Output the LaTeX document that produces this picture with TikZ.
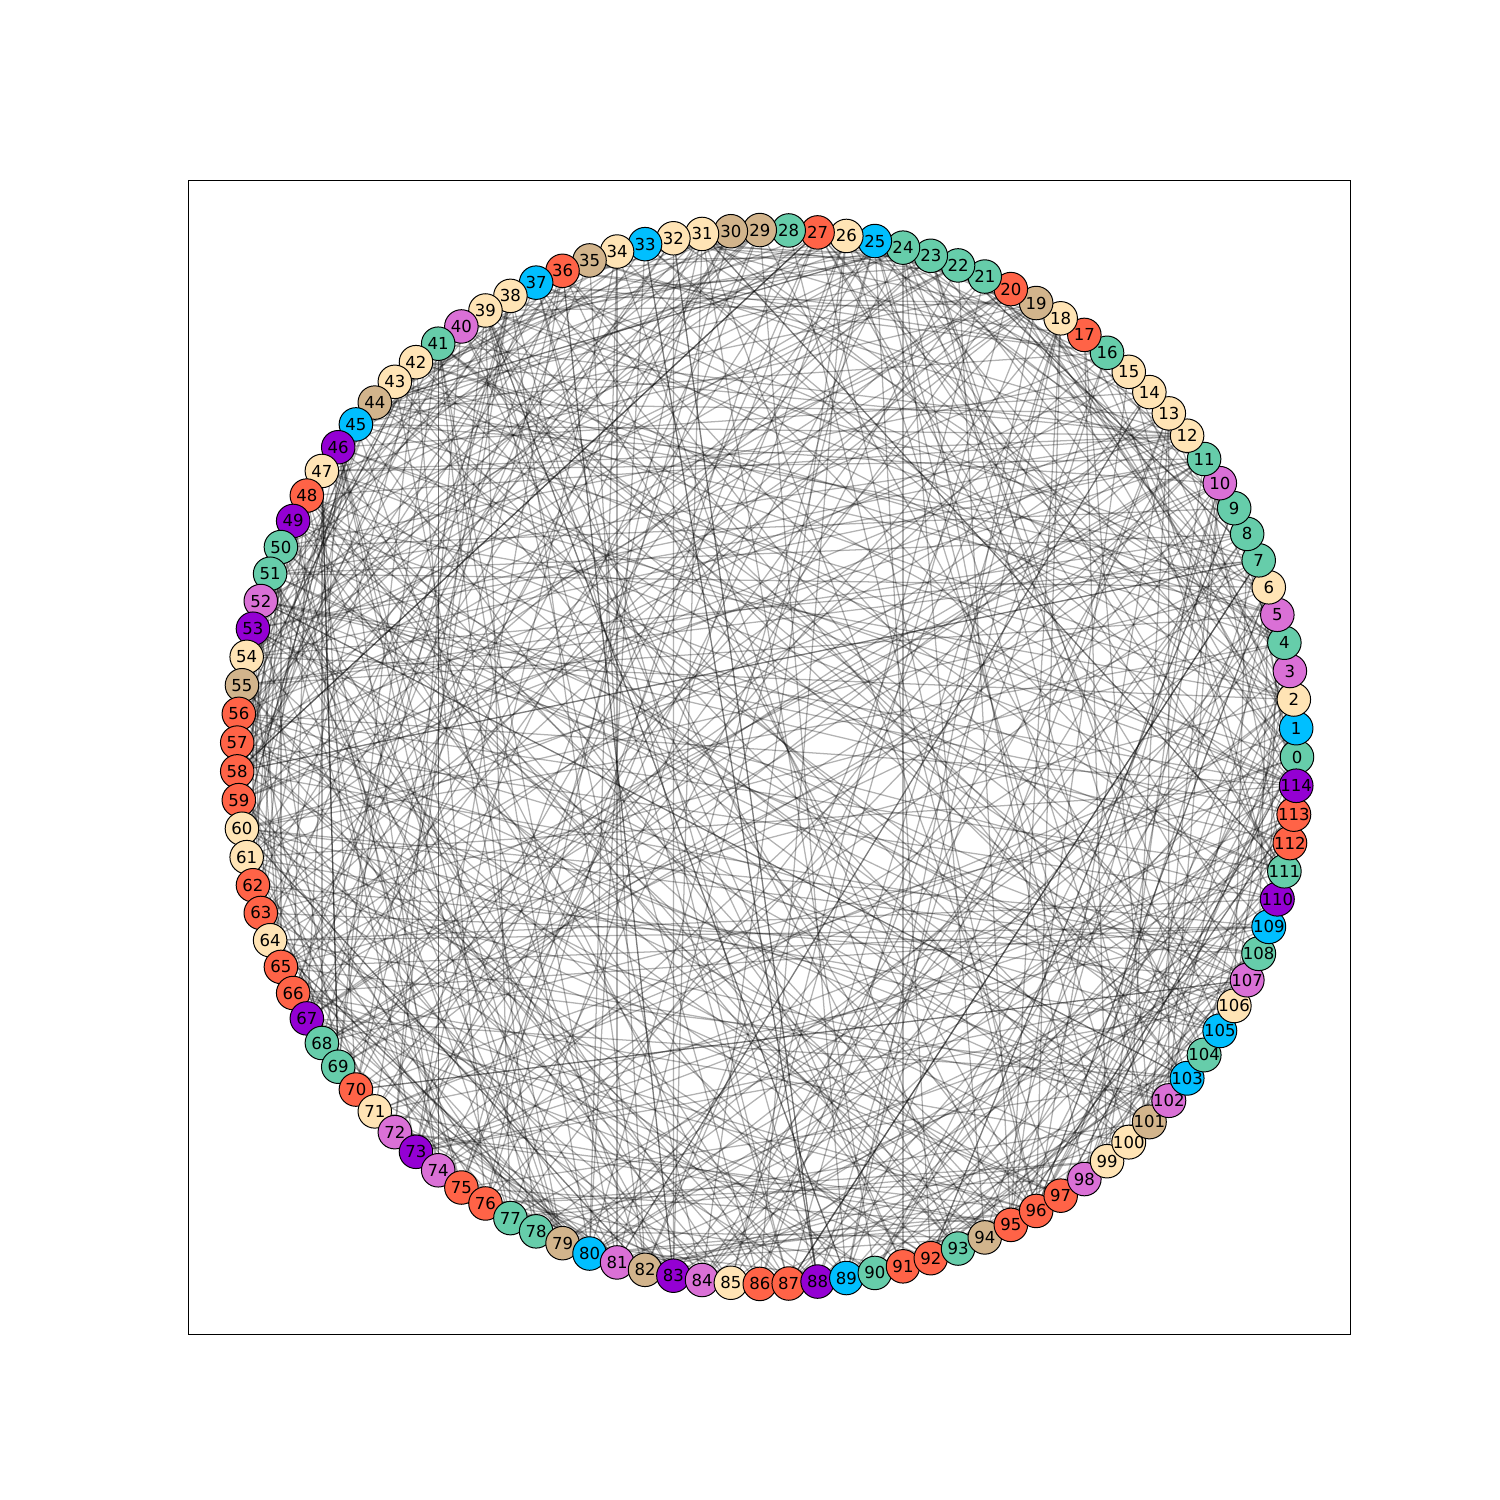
\documentclass[tikz,border=0pt]{standalone}
\usepackage{fontspec}
\setmainfont{DejaVu Sans}
\usetikzlibrary{backgrounds}
\definecolor{cgreen}{HTML}{66CDAA}
\definecolor{cblue}{HTML}{00BFFF}
\definecolor{cwheat}{HTML}{FFE4B5}
\definecolor{corchid}{HTML}{DA70D6}
\definecolor{ctomato}{HTML}{FF6347}
\definecolor{ctan}{HTML}{D2B48C}
\definecolor{cviolet}{HTML}{9400D3}
\tikzset{
  gnode/.style={circle,draw=black,line width=0.28pt,minimum size=0.335cm,inner sep=0pt,font=\fontsize{4.7}{5}\selectfont},
  ngreen/.style={gnode,fill=cgreen},
  nblue/.style={gnode,fill=cblue},
  nwheat/.style={gnode,fill=cwheat},
  norchid/.style={gnode,fill=corchid},
  ntomato/.style={gnode,fill=ctomato},
  ntan/.style={gnode,fill=ctan},
  nviolet/.style={gnode,fill=cviolet},
  gedge/.style={draw=black,opacity=0.3,line width=0.36pt}
}
\begin{document}
\begin{tikzpicture}[x=0.01cm,y=0.01cm]
\useasboundingbox (0,0) rectangle (1500,1500);
\draw[line width=0.28pt] (188,166) rectangle (1350,1319);
\begin{scope}[shift={(767,743)}]
\node[ngreen] (n0) at (0*3.130435:530 and 527) {0};
\node[nblue] (n1) at (1*3.130435:530 and 527) {1};
\node[nwheat] (n2) at (2*3.130435:530 and 527) {2};
\node[norchid] (n3) at (3*3.130435:530 and 527) {3};
\node[ngreen] (n4) at (4*3.130435:530 and 527) {4};
\node[norchid] (n5) at (5*3.130435:530 and 527) {5};
\node[nwheat] (n6) at (6*3.130435:530 and 527) {6};
\node[ngreen] (n7) at (7*3.130435:530 and 527) {7};
\node[ngreen] (n8) at (8*3.130435:530 and 527) {8};
\node[ngreen] (n9) at (9*3.130435:530 and 527) {9};
\node[norchid] (n10) at (10*3.130435:530 and 527) {10};
\node[ngreen] (n11) at (11*3.130435:530 and 527) {11};
\node[nwheat] (n12) at (12*3.130435:530 and 527) {12};
\node[nwheat] (n13) at (13*3.130435:530 and 527) {13};
\node[nwheat] (n14) at (14*3.130435:530 and 527) {14};
\node[nwheat] (n15) at (15*3.130435:530 and 527) {15};
\node[ngreen] (n16) at (16*3.130435:530 and 527) {16};
\node[ntomato] (n17) at (17*3.130435:530 and 527) {17};
\node[nwheat] (n18) at (18*3.130435:530 and 527) {18};
\node[ntan] (n19) at (19*3.130435:530 and 527) {19};
\node[ntomato] (n20) at (20*3.130435:530 and 527) {20};
\node[ngreen] (n21) at (21*3.130435:530 and 527) {21};
\node[ngreen] (n22) at (22*3.130435:530 and 527) {22};
\node[ngreen] (n23) at (23*3.130435:530 and 527) {23};
\node[ngreen] (n24) at (24*3.130435:530 and 527) {24};
\node[nblue] (n25) at (25*3.130435:530 and 527) {25};
\node[nwheat] (n26) at (26*3.130435:530 and 527) {26};
\node[ntomato] (n27) at (27*3.130435:530 and 527) {27};
\node[ngreen] (n28) at (28*3.130435:530 and 527) {28};
\node[ntan] (n29) at (29*3.130435:530 and 527) {29};
\node[ntan] (n30) at (30*3.130435:530 and 527) {30};
\node[nwheat] (n31) at (31*3.130435:530 and 527) {31};
\node[nwheat] (n32) at (32*3.130435:530 and 527) {32};
\node[nblue] (n33) at (33*3.130435:530 and 527) {33};
\node[nwheat] (n34) at (34*3.130435:530 and 527) {34};
\node[ntan] (n35) at (35*3.130435:530 and 527) {35};
\node[ntomato] (n36) at (36*3.130435:530 and 527) {36};
\node[nblue] (n37) at (37*3.130435:530 and 527) {37};
\node[nwheat] (n38) at (38*3.130435:530 and 527) {38};
\node[nwheat] (n39) at (39*3.130435:530 and 527) {39};
\node[norchid] (n40) at (40*3.130435:530 and 527) {40};
\node[ngreen] (n41) at (41*3.130435:530 and 527) {41};
\node[nwheat] (n42) at (42*3.130435:530 and 527) {42};
\node[nwheat] (n43) at (43*3.130435:530 and 527) {43};
\node[ntan] (n44) at (44*3.130435:530 and 527) {44};
\node[nblue] (n45) at (45*3.130435:530 and 527) {45};
\node[nviolet] (n46) at (46*3.130435:530 and 527) {46};
\node[nwheat] (n47) at (47*3.130435:530 and 527) {47};
\node[ntomato] (n48) at (48*3.130435:530 and 527) {48};
\node[nviolet] (n49) at (49*3.130435:530 and 527) {49};
\node[ngreen] (n50) at (50*3.130435:530 and 527) {50};
\node[ngreen] (n51) at (51*3.130435:530 and 527) {51};
\node[norchid] (n52) at (52*3.130435:530 and 527) {52};
\node[nviolet] (n53) at (53*3.130435:530 and 527) {53};
\node[nwheat] (n54) at (54*3.130435:530 and 527) {54};
\node[ntan] (n55) at (55*3.130435:530 and 527) {55};
\node[ntomato] (n56) at (56*3.130435:530 and 527) {56};
\node[ntomato] (n57) at (57*3.130435:530 and 527) {57};
\node[ntomato] (n58) at (58*3.130435:530 and 527) {58};
\node[ntomato] (n59) at (59*3.130435:530 and 527) {59};
\node[nwheat] (n60) at (60*3.130435:530 and 527) {60};
\node[nwheat] (n61) at (61*3.130435:530 and 527) {61};
\node[ntomato] (n62) at (62*3.130435:530 and 527) {62};
\node[ntomato] (n63) at (63*3.130435:530 and 527) {63};
\node[nwheat] (n64) at (64*3.130435:530 and 527) {64};
\node[ntomato] (n65) at (65*3.130435:530 and 527) {65};
\node[ntomato] (n66) at (66*3.130435:530 and 527) {66};
\node[nviolet] (n67) at (67*3.130435:530 and 527) {67};
\node[ngreen] (n68) at (68*3.130435:530 and 527) {68};
\node[ngreen] (n69) at (69*3.130435:530 and 527) {69};
\node[ntomato] (n70) at (70*3.130435:530 and 527) {70};
\node[nwheat] (n71) at (71*3.130435:530 and 527) {71};
\node[norchid] (n72) at (72*3.130435:530 and 527) {72};
\node[nviolet] (n73) at (73*3.130435:530 and 527) {73};
\node[norchid] (n74) at (74*3.130435:530 and 527) {74};
\node[ntomato] (n75) at (75*3.130435:530 and 527) {75};
\node[ntomato] (n76) at (76*3.130435:530 and 527) {76};
\node[ngreen] (n77) at (77*3.130435:530 and 527) {77};
\node[ngreen] (n78) at (78*3.130435:530 and 527) {78};
\node[ntan] (n79) at (79*3.130435:530 and 527) {79};
\node[nblue] (n80) at (80*3.130435:530 and 527) {80};
\node[norchid] (n81) at (81*3.130435:530 and 527) {81};
\node[ntan] (n82) at (82*3.130435:530 and 527) {82};
\node[nviolet] (n83) at (83*3.130435:530 and 527) {83};
\node[norchid] (n84) at (84*3.130435:530 and 527) {84};
\node[nwheat] (n85) at (85*3.130435:530 and 527) {85};
\node[ntomato] (n86) at (86*3.130435:530 and 527) {86};
\node[ntomato] (n87) at (87*3.130435:530 and 527) {87};
\node[nviolet] (n88) at (88*3.130435:530 and 527) {88};
\node[nblue] (n89) at (89*3.130435:530 and 527) {89};
\node[ngreen] (n90) at (90*3.130435:530 and 527) {90};
\node[ntomato] (n91) at (91*3.130435:530 and 527) {91};
\node[ntomato] (n92) at (92*3.130435:530 and 527) {92};
\node[ngreen] (n93) at (93*3.130435:530 and 527) {93};
\node[ntan] (n94) at (94*3.130435:530 and 527) {94};
\node[ntomato] (n95) at (95*3.130435:530 and 527) {95};
\node[ntomato] (n96) at (96*3.130435:530 and 527) {96};
\node[ntomato] (n97) at (97*3.130435:530 and 527) {97};
\node[norchid] (n98) at (98*3.130435:530 and 527) {98};
\node[nwheat] (n99) at (99*3.130435:530 and 527) {99};
\node[nwheat] (n100) at (100*3.130435:530 and 527) {100};
\node[ntan] (n101) at (101*3.130435:530 and 527) {101};
\node[norchid] (n102) at (102*3.130435:530 and 527) {102};
\node[nblue] (n103) at (103*3.130435:530 and 527) {103};
\node[ngreen] (n104) at (104*3.130435:530 and 527) {104};
\node[nblue] (n105) at (105*3.130435:530 and 527) {105};
\node[nwheat] (n106) at (106*3.130435:530 and 527) {106};
\node[norchid] (n107) at (107*3.130435:530 and 527) {107};
\node[ngreen] (n108) at (108*3.130435:530 and 527) {108};
\node[nblue] (n109) at (109*3.130435:530 and 527) {109};
\node[nviolet] (n110) at (110*3.130435:530 and 527) {110};
\node[ngreen] (n111) at (111*3.130435:530 and 527) {111};
\node[ntomato] (n112) at (112*3.130435:530 and 527) {112};
\node[ntomato] (n113) at (113*3.130435:530 and 527) {113};
\node[nviolet] (n114) at (114*3.130435:530 and 527) {114};
\end{scope}
\begin{scope}[on background layer]
\pgfmathsetseed{2718}
\foreach \k in {1,...,700}{
  \pgfmathtruncatemacro\ea{random(0,114)}
  \pgfmathtruncatemacro\eb{random(0,114)}
  \ifnum\ea=\eb\else
    \draw[gedge] (n\ea.center) -- (n\eb.center);
  \fi
}
\end{scope}
\end{tikzpicture}
\end{document}
